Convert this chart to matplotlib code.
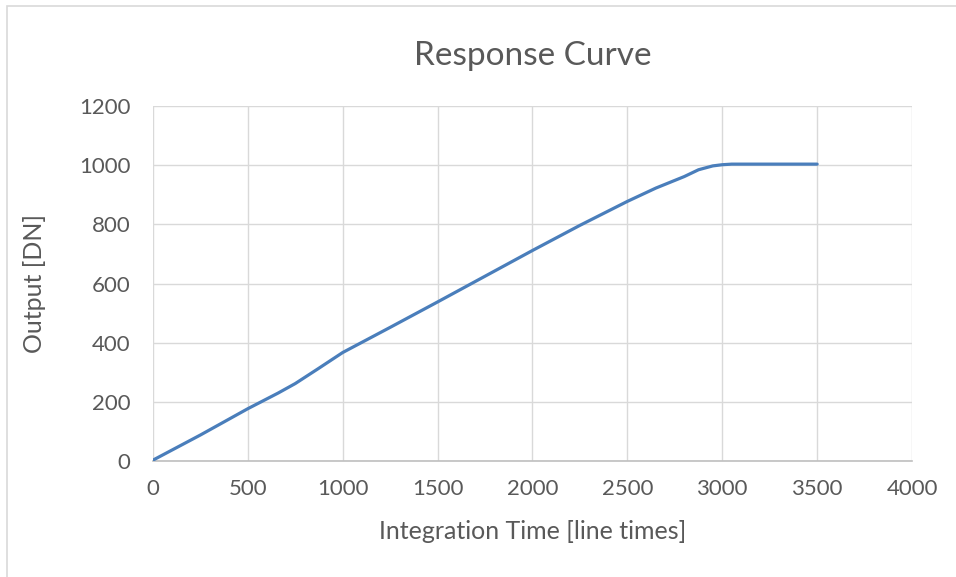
import matplotlib.pyplot as plt
from matplotlib.patches import Rectangle

# 讀圖估計的資料點
integration_time = [0, 250, 500, 660, 750, 870, 1000, 1250, 1500, 1750, 2000,
                    2250, 2500, 2650, 2800, 2875, 2950, 3000, 3050, 3250, 3500]
output_dn = [3, 88, 177, 230, 262, 312, 367, 452, 538, 625, 712,
             797, 878, 923, 962, 985, 998, 1002, 1004, 1004, 1004]

x_ticks = [0, 500, 1000, 1500, 2000, 2500, 3000, 3500, 4000]
y_ticks = [0, 200, 400, 600, 800, 1000, 1200]

plt.rcParams['font.family'] = ['Lato', 'DejaVu Sans']
text_color = '#595959'

fig = plt.figure(figsize=(9.56, 5.77), dpi=100)
ax = fig.add_axes([0.160, 0.201, 0.794, 0.615])

# 外框 (Excel 圖表區)
fig.patches.append(Rectangle((0.007, -0.05), 1.1, 1.04, transform=fig.transFigure,
                             fill=False, edgecolor='#d9d9d9', linewidth=1.2))

ax.plot(integration_time, output_dn, color='#4a7ebb', linewidth=2.3,
        solid_capstyle='round', solid_joinstyle='round', zorder=3)

ax.set_xlim(0, 4000)
ax.set_ylim(0, 1200)
ax.set_xticks(x_ticks)
ax.set_yticks(y_ticks)
ax.grid(True, color='#d9d9d9', linewidth=1)
ax.set_axisbelow(True)

for side in ['top', 'right', 'left']:
    ax.spines[side].set_visible(False)
ax.spines['bottom'].set_color('#bfbfbf')
ax.spines['bottom'].set_linewidth(1.2)

ax.tick_params(axis='both', length=0, labelsize=16, labelcolor=text_color)
ax.tick_params(axis='x', pad=13)
ax.tick_params(axis='y', pad=16)

ax.set_title('Response Curve', fontsize=24, color=text_color, pad=30)
ax.set_xlabel('Integration Time [line times]', fontsize=18, color=text_color, labelpad=15)
ax.set_ylabel('Output [DN]', fontsize=18, color=text_color, labelpad=24)

plt.savefig('out.png', dpi=100)
